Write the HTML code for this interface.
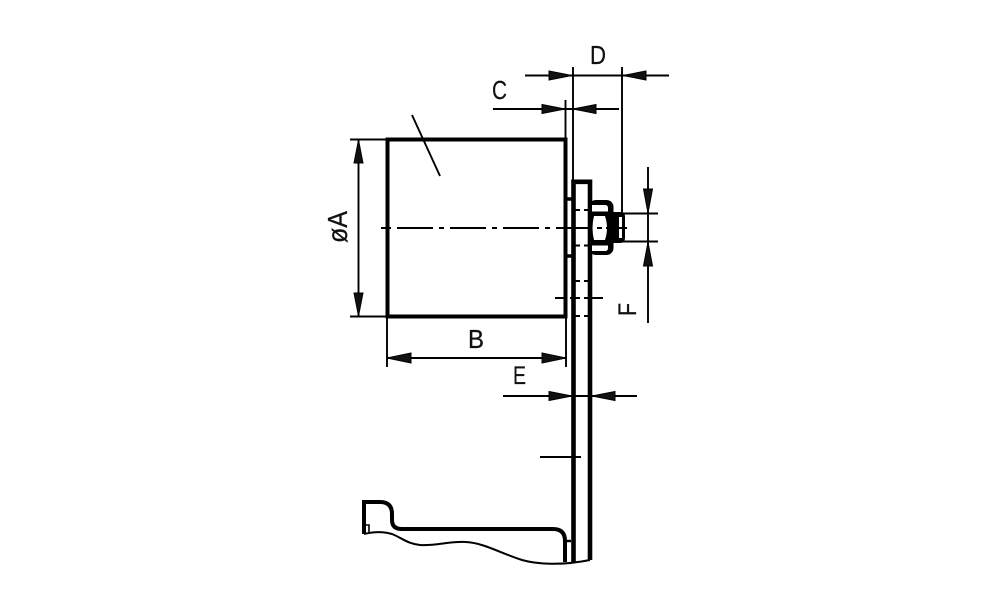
<!DOCTYPE html>
<html><head><meta charset="utf-8"><style>
html,body{margin:0;padding:0;background:#fff;width:1000px;height:611px;overflow:hidden}
svg{display:block}
text{font-family:"Liberation Sans",sans-serif;fill:#111;stroke:#111;stroke-width:.25}
</style></head><body>
<svg width="1000" height="611" viewBox="0 0 1000 611" xmlns="http://www.w3.org/2000/svg">
<g fill="none" stroke="#000" stroke-linecap="butt">
<!-- main box -->
<rect x="387.500" y="139.500" width="178" height="177" stroke-width="4"/>
<!-- plate -->
<path d="M573.500 562V181.800H590V560" stroke-width="4.600"/>
<path d="M566 199H572M566 256H572" stroke-width="3.500"/>
<!-- bottom bracket -->
<path d="M364 534V502H380Q392 502 392 514V520Q392 529 402 529H553Q565 529 565 541V562" stroke-width="4"/>
<path d="M571 541H566" stroke-width="2.500"/>
<path d="M365 525H369V533" stroke-width="1.600"/>
<path d="M364 534C372 532 382 531 392 534C402 538 408 544 420 545C436 546 450 541 466 542C484 543 500 553 522 560C536 564 560 566 590 560" stroke-width="2"/>
</g>
<!-- nut -->
<rect x="589" y="200" width="24.500" height="55" rx="7" fill="#000"/>
<path d="M592 205H605Q608 205 608 208V211.500H592Z" fill="#fff"/>
<path d="M592 251H605Q608 251 608 248V245.500H592Z" fill="#fff"/>
<path d="M594 216H605Q609 228 605 240H594Q591 228 594 216Z" fill="#fff"/>
<path d="M612 212H620Q625 212 625 217V238Q625 243 620 243H612Z" fill="#000"/>
<rect x="619" y="217" width="3" height="21" fill="#fff"/>
<g fill="none" stroke="#000" stroke-width="1.900">
<path d="M525 75.500H669M573 67V181M622 67V213"/>
<path d="M493 109H619M565.500 100V140"/>
<path d="M412 115L440 176"/>
<path d="M350 139.500H386M350 316.500H386M358.500 139V316"/>
<path d="M387 318V367M566 318V367M387 358H566"/>
<path d="M503 396H637"/>
<path d="M540 457H581"/>
<path d="M648 167V323M616 213.500H658M616 241.500H658"/>
<path d="M381 228H391M397 228H433M439 228H444M450 228H486M492 228H497M503 228H539M545 228H550M556 228H592M597 228H602M606 228H627"/>
<path d="M555 298H564M570 298H580M584 298H603"/>
<path d="M575 210H580M584 210H589M575 245.500H580M584 245.500H589M575 281H580M584 281H589M575 316H580M584 316H589"/>
</g>
<!-- arrowheads -->
<g fill="#111" stroke="#000" stroke-width="1">
<path d="M549 71V80L572 75.500Z"/>
<path d="M646 71V80L623 75.500Z"/>
<path d="M542 104.500V113.500L565 109Z"/>
<path d="M596 104.500V113.500L573 109Z"/>
<path d="M354 163H363L358.500 140Z"/>
<path d="M354 293H363L358.500 316Z"/>
<path d="M411 353V363L387 358Z"/>
<path d="M542 353V363L566 358Z"/>
<path d="M549 391.500V400.500L572 396Z"/>
<path d="M615 391.500V400.500L592 396Z"/>
<path d="M643.500 189H652.500L648 213Z"/>
<path d="M643.500 266H652.500L648 242Z"/>
</g>
<g>
<text x="590" y="64" textLength="16" lengthAdjust="spacingAndGlyphs" font-size="26">D</text>
<text x="492" y="99" textLength="15" lengthAdjust="spacingAndGlyphs" font-size="26">C</text>
<text x="468" y="348" textLength="16" lengthAdjust="spacingAndGlyphs" font-size="26">B</text>
<text x="513" y="384" textLength="13" lengthAdjust="spacingAndGlyphs" font-size="25">E</text>
<text transform="translate(636,316) rotate(-90)" font-size="25" textLength="13" lengthAdjust="spacingAndGlyphs">F</text>
<text transform="translate(347,243) rotate(-90)" font-size="28" textLength="32" lengthAdjust="spacingAndGlyphs">øA</text>
</g>
</svg>
</body></html>
